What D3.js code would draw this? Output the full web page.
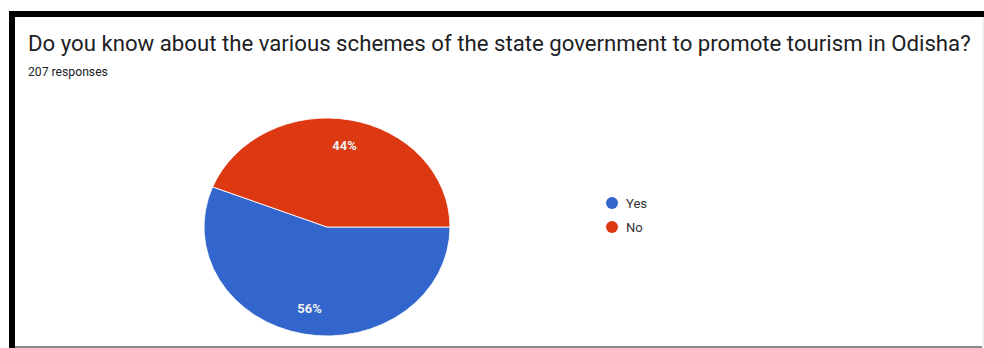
<!DOCTYPE html>
<html>
<head>
<meta charset="utf-8">
<script src="https://cdn.jsdelivr.net/npm/d3@7"></script>
<style>
  html, body { margin: 0; padding: 0; background: #fff; }
  svg { display: block; }
</style>
</head>
<body>
<svg id="chart" width="984" height="348"></svg>
<script>
const categories = ["Yes", "No"];
const values = [56, 44];
const labels = ["56%", "44%"];
const colors = ["#3366cc", "#dc3912"];
const title = "Do you know about the various schemes of the state government to promote tourism in Odisha?";
const subtitle = "207 responses";

const W = 984, H = 348;
const svg = d3.select("#chart");

// frame
svg.append("rect").attr("x", 0).attr("y", 0).attr("width", W).attr("height", H).attr("fill", "#fff");
svg.append("rect").attr("x", 9).attr("y", 11).attr("width", W - 9).attr("height", 6).attr("fill", "#000");
svg.append("rect").attr("x", 9).attr("y", 11).attr("width", 6).attr("height", H - 11).attr("fill", "#000");
svg.append("rect").attr("x", 15).attr("y", 346).attr("width", W - 15).attr("height", 2).attr("fill", "#8a8a8a");
svg.append("rect").attr("x", 982).attr("y", 17).attr("width", 2).attr("height", H - 17).attr("fill", "#f0f0f0");

// title
const t = svg.append("text")
  .attr("x", 28).attr("y", 51)
  .attr("font-family", "Roboto, 'Noto Sans', sans-serif")
  .attr("font-size", 18)
  .attr("fill", "#202124")
  .text(title);
const targetW = 943;
const tw = t.node().getComputedTextLength();
t.attr("font-size", 18 * targetW / tw);

const s = svg.append("text")
  .attr("x", 28).attr("y", 76)
  .attr("font-family", "Roboto, 'Noto Sans', sans-serif")
  .attr("font-size", 12)
  .attr("fill", "#202124")
  .text(subtitle);
const sw = s.node().getComputedTextLength();
s.attr("font-size", 12 * 80 / sw);

// pie
const cx = 327, cy = 227, rx = 123, ry = 109;
const pie = d3.pie().sort(null).value(d => d.v)
  .startAngle(Math.PI / 2).endAngle(Math.PI / 2 + 2 * Math.PI);
const data = categories.map((c, i) => ({ c, v: values[i], label: labels[i], color: colors[i] }));
const arcs = pie(data);
const arc = d3.arc().innerRadius(0).outerRadius(ry);
const labelArc = d3.arc().innerRadius(ry * 0.76).outerRadius(ry * 0.76);

const g = svg.append("g").attr("transform", `translate(${cx},${cy}) scale(${rx / ry},1)`);
g.selectAll("path").data(arcs).join("path")
  .attr("d", arc)
  .attr("fill", d => d.data.color)
  .attr("stroke", "#fff")
  .attr("stroke-width", 0.8)
  .attr("stroke-linejoin", "round");

const lg = svg.append("g").attr("transform", `translate(${cx},${cy})`);
lg.selectAll("text").data(arcs).join("text")
  .attr("x", d => labelArc.centroid(d)[0] * rx / ry)
  .attr("y", d => labelArc.centroid(d)[1])
  .attr("text-anchor", "middle")
  .attr("dominant-baseline", "central")
  .attr("font-family", "Roboto, 'Noto Sans', sans-serif")
  .attr("font-size", 13)
  .attr("font-weight", "bold")
  .attr("fill", "#f1f1f1")
  .text(d => d.data.label);

// legend
const legend = svg.append("g").attr("transform", "translate(612,203)");
const items = legend.selectAll("g").data(data).join("g")
  .attr("transform", (d, i) => `translate(0,${i * 24})`);
items.append("circle").attr("r", 6).attr("fill", d => d.color);
items.append("text")
  .attr("x", 14).attr("y", 0)
  .attr("dominant-baseline", "central")
  .attr("font-family", "Roboto, 'Noto Sans', sans-serif")
  .attr("font-size", 13)
  .attr("fill", "#333")
  .text(d => d.c);
</script>
</body>
</html>
